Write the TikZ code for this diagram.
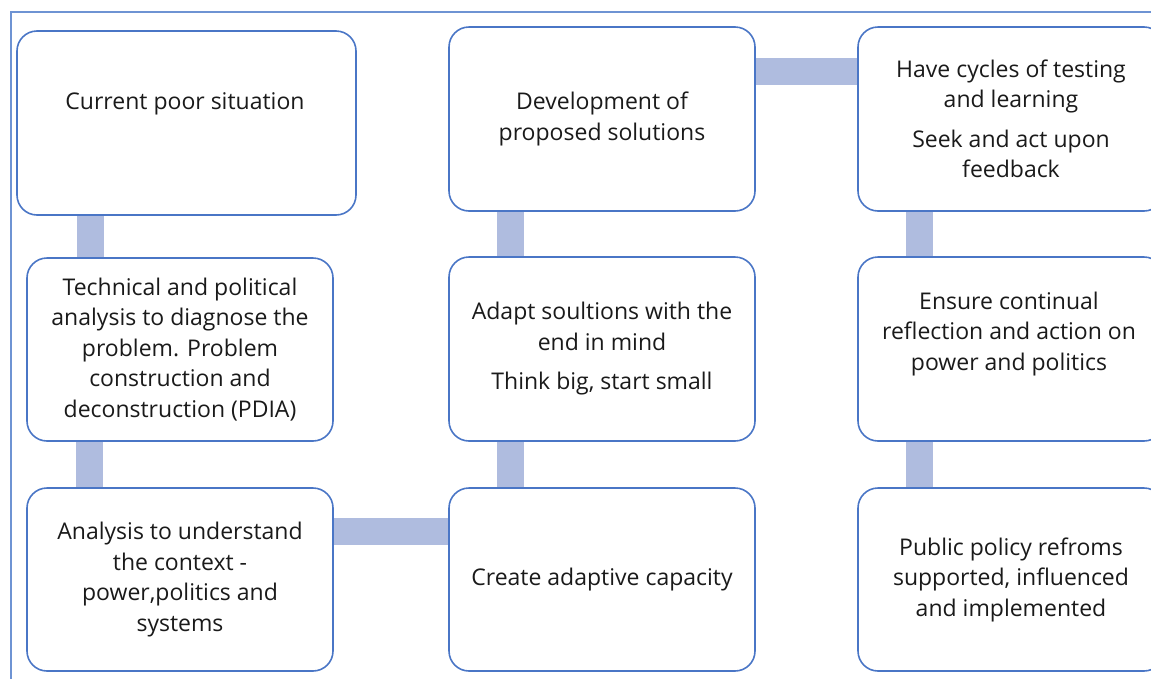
\documentclass[tikz,border=0pt]{standalone}
\usepackage{fontspec}
\setmainfont{Open Sans}
\usetikzlibrary{backgrounds}
\definecolor{boxline}{HTML}{4A76C6}
\definecolor{frameline}{HTML}{6E93D3}
\definecolor{connfill}{HTML}{AFBCDF}
\definecolor{txt}{HTML}{1A1A1A}
\tikzset{
  stagebox/.style={draw=boxline, line width=1.6pt, fill=white, rounded corners=20pt,
    minimum width=306pt, minimum height=183pt, inner sep=0pt, outer sep=0pt,
    text=txt, align=center, font=\fontsize{23}{30.5}\selectfont},
  stagetext/.style={text=txt, align=center, inner sep=0pt, font=\fontsize{23}{30.5}\selectfont},
  conn/.style={draw=connfill, line width=27pt},
}
\begin{document}
\begin{tikzpicture}[x=1pt, y=-1pt]
\useasboundingbox (0,0) rectangle (1151,678);
\clip (0,0) rectangle (1151,678);
% frame
\coordinate (fbl) at (11,690);
\coordinate (ftl) at (11,12);
\coordinate (ftr) at (1160,12);
\draw[frameline, line width=1.5pt] (fbl) -- (ftl) -- (ftr);
% boxes
\node[stagebox, minimum width=339pt, minimum height=184pt] (b1) at (186.5,123) {};
\node[stagetext] (t1) at (185,104) {Current poor situation};
\node[stagebox] (b2) at (180,349.5) {Technical and political\\analysis to diagnose the\\problem. Problem\\construction and\\deconstruction (PDIA)};
\node[stagebox] (b3) at (180,579.5) {Analysis to understand\\the context -\\power,politics and\\systems};
\node[stagebox, minimum height=184pt] (b4) at (602,119) {Development of\\proposed solutions};
\node[stagebox, minimum height=184pt] (b5) at (602,349) {Adapt soultions with the\\end in mind\\[9pt]Think big, start small};
\node[stagebox] (b6) at (602,579.5) {Create adaptive capacity};
\node[stagebox, minimum height=184pt] (b7) at (1011,119) {Have cycles of testing\\and learning\\[9pt]Seek and act upon\\feedback};
\node[stagebox, minimum height=184pt] (b8) at (1011,349) {};
\node[stagetext] (t8) at (1009,334) {Ensure continual\\reflection and action on\\power and politics};
\node[stagebox] (b9) at (1011,579.5) {Public policy refroms\\supported, influenced\\and implemented};
% connectors
\begin{scope}[on background layer]
\draw[conn] (b1.south -| 90,0) -- (b2.north -| 90,0);
\draw[conn] (b2.south -| 89,0) -- (b3.north -| 89,0);
\draw[conn] (b3.east |- 0,531) -- (b6.west |- 0,531);
\draw[conn] (b6.north -| 510,0) -- (b5.south -| 510,0);
\draw[conn] (b5.north -| 510,0) -- (b4.south -| 510,0);
\draw[conn] (b4.east |- 0,71.5) -- (b7.west |- 0,71.5);
\draw[conn] (b7.south -| 919,0) -- (b8.north -| 919,0);
\draw[conn] (b8.south -| 919,0) -- (b9.north -| 919,0);
\end{scope}
\end{tikzpicture}
\end{document}
